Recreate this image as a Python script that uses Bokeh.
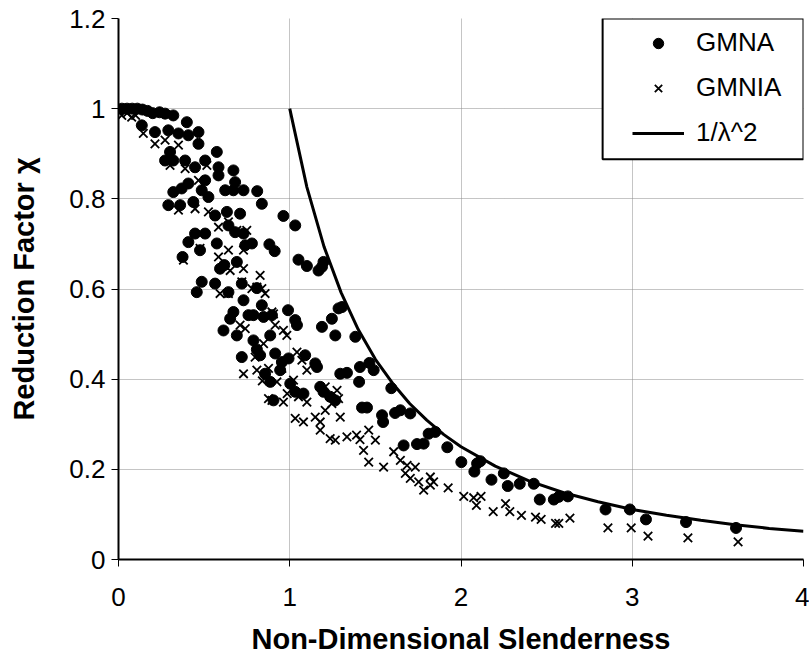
from bokeh.plotting import figure
from bokeh.models import FixedTicker, Legend, LegendItem, BoxAnnotation, Range1d
from bokeh.embed import file_html
from bokeh.resources import INLINE

# ---------------- data ----------------
gmna_x = [0.02, 0.05, 0.08, 0.11, 0.14, 0.17, 0.20, 0.24, 0.272, 0.320, 0.399, 0.467, 0.574,
          0.136, 0.213, 0.291, 0.350, 0.408, 0.467, 0.301, 0.272, 0.320, 0.389, 0.447, 0.506,
          0.584, 0.671, 0.584, 0.681, 0.320, 0.369, 0.408, 0.486, 0.525, 0.623, 0.671, 0.730,
          0.81, 0.291, 0.360, 0.437, 0.564, 0.633, 0.710, 0.642, 0.681, 0.730, 0.447, 0.408,
          0.506, 0.574, 0.374, 0.618, 0.506, 0.837, 0.963, 1.032, 0.881, 0.912, 1.051, 1.100,
          0.779, 0.740, 1.168, 1.197, 1.188, 0.808, 0.837, 1.285, 1.305, 1.246, 0.788, 0.847,
          0.896, 0.99, 1.032, 1.042, 1.188, 1.266, 1.383, 0.788, 0.886, 0.808, 0.827, 0.915,
          0.954, 0.944, 0.993, 1.090, 1.149, 1.159, 1.295, 1.334, 1.41, 1.465, 1.490, 1.405,
          0.856, 0.886, 1.003, 1.032, 1.080, 1.178, 1.197, 1.236, 1.266, 0.905, 0.476, 0.691,
          0.593, 0.486, 0.457, 0.564, 0.642, 0.720, 0.730, 0.671, 0.652, 0.759, 0.613, 0.691,
          0.720, 1.593, 1.422, 1.451, 1.539, 1.545, 1.615, 1.646, 1.704, 1.665, 1.743, 1.782,
          1.811, 1.850, 1.92, 2.002, 2.078, 2.094, 2.113, 2.178, 2.25, 2.273, 2.343, 2.425,
          2.46, 2.542, 2.571, 2.624, 2.844, 2.986, 3.080, 3.314, 3.606]
gmna_y = [1.0, 1.0, 1.0, 1.0, 0.998, 0.995, 0.99, 0.992, 0.989, 0.985, 0.970, 0.948, 0.904,
          0.963, 0.948, 0.952, 0.945, 0.941, 0.922, 0.904, 0.885, 0.885, 0.885, 0.870, 0.885,
          0.870, 0.863, 0.852, 0.837, 0.815, 0.823, 0.834, 0.819, 0.804, 0.819, 0.819, 0.819,
          0.817, 0.786, 0.786, 0.793, 0.763, 0.771, 0.767, 0.741, 0.726, 0.723, 0.723, 0.704,
          0.723, 0.701, 0.671, 0.653, 0.841, 0.789, 0.762, 0.741, 0.699, 0.684, 0.665, 0.651,
          0.701, 0.697, 0.641, 0.660, 0.649, 0.602, 0.564, 0.557, 0.560, 0.534, 0.542, 0.538,
          0.542, 0.553, 0.531, 0.520, 0.516, 0.497, 0.494, 0.486, 0.497, 0.466, 0.453, 0.457,
          0.438, 0.420, 0.446, 0.453, 0.435, 0.427, 0.412, 0.414, 0.427, 0.436, 0.420, 0.394,
          0.412, 0.394, 0.390, 0.372, 0.368, 0.383, 0.372, 0.361, 0.353, 0.353, 0.686, 0.660,
          0.645, 0.616, 0.593, 0.612, 0.593, 0.612, 0.575, 0.549, 0.534, 0.542, 0.508, 0.497,
          0.449, 0.380, 0.337, 0.337, 0.320, 0.305, 0.325, 0.331, 0.324, 0.253, 0.256, 0.257,
          0.279, 0.283, 0.249, 0.216, 0.195, 0.213, 0.218, 0.177, 0.191, 0.163, 0.168, 0.168,
          0.133, 0.133, 0.139, 0.140, 0.111, 0.111, 0.089, 0.083, 0.070]

gmnia_x = [0.019, 0.05, 0.077, 0.10, 0.145, 0.213, 0.272, 0.350, 0.301, 0.389, 0.467, 0.516,
           0.350, 0.447, 0.525, 0.584, 0.642, 0.691, 0.749, 0.476, 0.584, 0.642, 0.730, 0.379,
           0.652, 0.730, 0.720, 0.593, 0.642, 0.779, 0.710, 0.740, 0.905, 0.730, 0.827, 0.808,
           0.837, 0.856, 0.896, 0.915, 0.963, 0.983, 0.847, 0.798, 1.042, 1.071, 1.100, 0.808,
           0.876, 0.954, 0.84, 0.925, 1.022, 0.876, 0.896, 0.963, 0.985, 1.051, 1.100, 1.207,
           1.276, 1.285, 1.246, 1.207, 1.295, 1.032, 1.080, 1.149, 1.178, 1.178, 1.236, 1.266,
           1.334, 1.39, 1.461, 1.41, 1.5, 1.431, 1.461, 1.548, 1.607, 1.646, 1.685, 1.733,
           1.675, 1.704, 1.753, 1.782, 1.821, 1.840, 1.821, 1.925, 2.016, 2.074, 2.090, 2.117,
           2.188, 2.26, 2.285, 2.353, 2.435, 2.468, 2.552, 2.571, 2.636, 2.858, 2.994, 3.092,
           3.325, 3.618]
gmnia_y = [0.985, 0.99, 0.981, 0.985, 0.945, 0.922, 0.930, 0.919, 0.874, 0.867, 0.841, 0.874,
           0.775, 0.778, 0.771, 0.737, 0.749, 0.730, 0.730, 0.69, 0.671, 0.686, 0.686, 0.664,
           0.641, 0.645, 0.616, 0.590, 0.590, 0.601, 0.520, 0.512, 0.545, 0.412, 0.630, 0.604,
           0.601, 0.590, 0.549, 0.520, 0.508, 0.497, 0.479, 0.449, 0.460, 0.442, 0.420, 0.420,
           0.424, 0.424, 0.396, 0.394, 0.398, 0.357, 0.353, 0.349, 0.368, 0.361, 0.349, 0.383,
           0.375, 0.357, 0.346, 0.331, 0.316, 0.313, 0.305, 0.316, 0.305, 0.287, 0.268, 0.265,
           0.272, 0.276, 0.287, 0.266, 0.265, 0.242, 0.216, 0.205, 0.239, 0.220, 0.209, 0.205,
           0.191, 0.180, 0.172, 0.154, 0.183, 0.172, 0.165, 0.159, 0.140, 0.137, 0.120, 0.140,
           0.106, 0.124, 0.106, 0.098, 0.094, 0.089, 0.080, 0.080, 0.092, 0.070, 0.070, 0.052,
           0.048, 0.039]

curve_x = [1.0, 1.1, 1.2, 1.3, 1.4, 1.5, 1.6, 1.7, 1.8, 1.9, 2.0, 2.2, 2.4, 2.6, 2.8, 3.0,
           3.2, 3.4, 3.6, 3.8, 4.0]
curve_y = [1.0, 0.826, 0.694, 0.592, 0.510, 0.444, 0.391, 0.346, 0.309, 0.277, 0.25, 0.207,
           0.174, 0.148, 0.128, 0.111, 0.098, 0.087, 0.077, 0.069, 0.0625]

x_ticks = [0, 1, 2, 3, 4]
x_tick_labels = ["0", "1", "2", "3", "4"]
y_ticks = [0, 0.2, 0.4, 0.6, 0.8, 1, 1.2]
y_tick_labels = ["0", "0.2", "0.4", "0.6", "0.8", "1", "1.2"]

series_names = ["GMNA", "GMNIA", "1/\u03bb^2"]
x_title = "Non-Dimensional Slenderness"
y_title = "Reduction Factor \u03c7"

FONT = "Liberation Sans"

p = figure(width=809, height=666, output_backend="svg", toolbar_location=None,
           x_range=Range1d(0, 4), y_range=Range1d(0, 1.2),
           min_border_left=118, min_border_right=6, min_border_top=18, min_border_bottom=107)
p.outline_line_color = None
p.background_fill_color = "white"

# grid
for g in (p.xgrid, p.ygrid):
    g.grid_line_color = "#8a8a8a"
    g.grid_line_dash = "1 1"
    g.grid_line_width = 1
p.xgrid.ticker = FixedTicker(ticks=x_ticks)
p.ygrid.ticker = FixedTicker(ticks=y_ticks)

# axes
p.xaxis.ticker = FixedTicker(ticks=x_ticks)
p.yaxis.ticker = FixedTicker(ticks=y_ticks)
p.xaxis.major_label_overrides = dict(zip(x_ticks, x_tick_labels))
p.yaxis.major_label_overrides = dict(zip(y_ticks, y_tick_labels))
for ax in (p.xaxis, p.yaxis):
    ax.axis_line_color = "black"
    ax.axis_line_width = 2
    ax.major_tick_line_color = "black"
    ax.major_tick_line_width = 1
    ax.major_tick_in = 0
    ax.major_tick_out = 7
    ax.minor_tick_line_color = None
    ax.major_label_text_font = FONT
    ax.major_label_text_font_size = "26px"
    ax.major_label_text_color = "black"
    ax.axis_label_text_font = FONT
    ax.axis_label_text_font_size = "29px"
    ax.axis_label_text_font_style = "bold"
    ax.axis_label_text_color = "black"
p.xaxis.axis_label = x_title
p.yaxis.axis_label = y_title
p.xaxis.major_label_standoff = 21
p.yaxis.major_label_standoff = 6
p.xaxis.axis_label_standoff = 14
p.yaxis.axis_label_standoff = 26

r1 = p.scatter(gmna_x, gmna_y, marker="circle", size=11, fill_color="black", line_color="black")
r2 = p.scatter(gmnia_x, gmnia_y, marker="x", size=12, line_color="black", line_width=1.8)
r3 = p.line(curve_x, curve_y, line_color="black", line_width=3)

# legend frame
frame = BoxAnnotation(left=2.827, right=4, bottom=0.888, top=1.2,
                      fill_color="white", fill_alpha=1.0,
                      line_color="black", line_alpha=1.0, line_width=2, level="annotation")
p.add_layout(frame)

legend = Legend(items=[LegendItem(label=series_names[0], renderers=[r1]),
                       LegendItem(label=series_names[1], renderers=[r2]),
                       LegendItem(label=series_names[2], renderers=[r3])],
                location=(514, 411), padding=0, margin=0, spacing=14,
                glyph_width=52, glyph_height=26, label_height=30, label_standoff=12,
                border_line_alpha=0, background_fill_alpha=0,
                label_text_font=FONT, label_text_font_size="26px", label_text_color="black")
p.add_layout(legend)

open("out.html", "w").write(file_html(p, INLINE))
